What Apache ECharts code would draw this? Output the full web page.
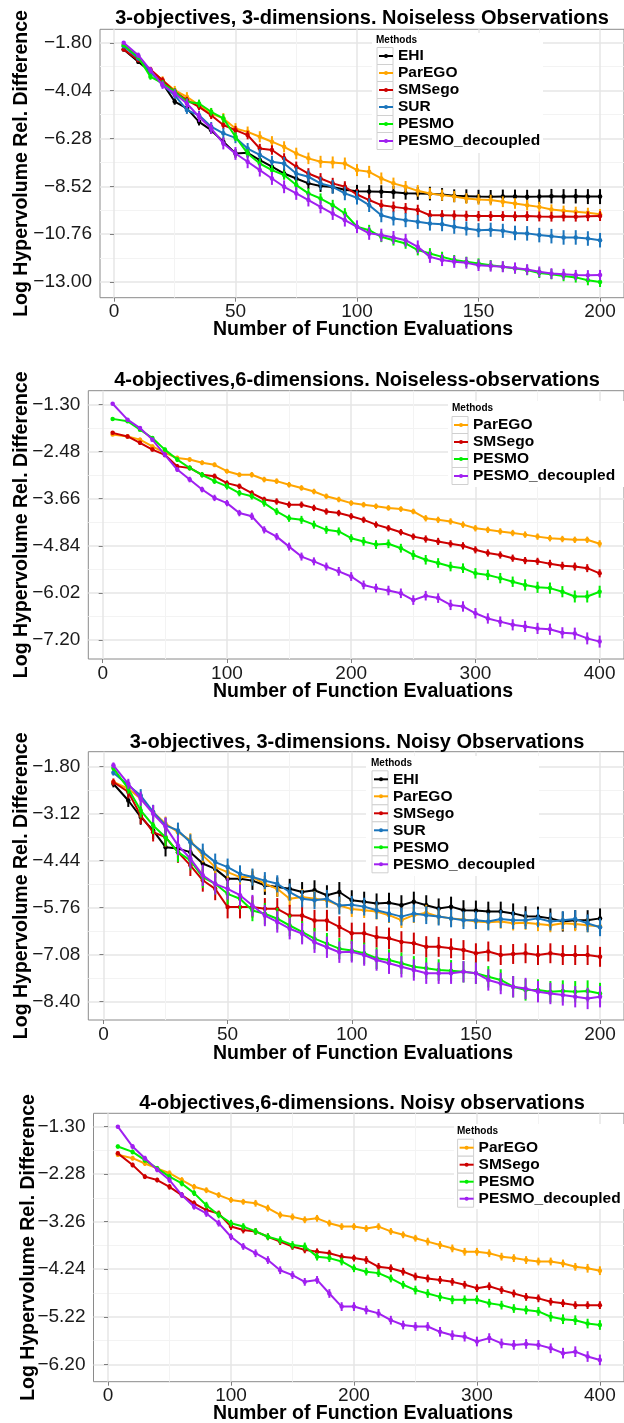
<!DOCTYPE html>
<html><head><meta charset="utf-8">
<script src="https://cdn.jsdelivr.net/npm/echarts@6.0.0/dist/echarts.min.js"></script>
<style>html,body{margin:0;padding:0;background:#fff}#c{width:624px;height:1423px}</style>
</head><body><div id="c"></div><script>
// ---------- tick labels ----------
const p1_xTicks = [0, 50, 100, 150, 200];
const p1_xMinor = [25, 75, 125, 175];
const p1_yTicks = [-13.00, -10.76, -8.52, -6.28, -4.04, -1.80];
const p1_yMinor = [-11.88, -9.64, -7.40, -5.16, -2.92];
const p2_xTicks = [0, 100, 200, 300, 400];
const p2_xMinor = [50, 150, 250, 350];
const p2_yTicks = [-7.20, -6.02, -4.84, -3.66, -2.48, -1.30];
const p2_yMinor = [-6.61, -5.43, -4.25, -3.07, -1.89];
const p3_xTicks = [0, 50, 100, 150, 200];
const p3_xMinor = [25, 75, 125, 175];
const p3_yTicks = [-8.40, -7.08, -5.76, -4.44, -3.12, -1.80];
const p3_yMinor = [-7.74, -6.42, -5.10, -3.78, -2.46];
const p4_xTicks = [0, 100, 200, 300, 400];
const p4_xMinor = [50, 150, 250, 350];
const p4_yTicks = [-6.20, -5.22, -4.24, -3.26, -2.28, -1.30];
const p4_yMinor = [-5.71, -4.73, -3.75, -2.77, -1.79];

// ---------- Panel 1: 3-objectives, 3-dimensions, noiseless ----------
const p1_x = [4,10,15,20,25,30,35,40,45,50,55,60,65,70,75,80,85,90,95,100,105,110,115,120,125,130,135,140,145,150,155,160,165,170,175,180,185,190,195,200];
const p1_EHI = [-2.11,-2.69,-3.16,-3.70,-4.55,-4.87,-5.50,-5.89,-6.43,-6.98,-6.95,-7.29,-7.60,-7.92,-8.15,-8.38,-8.50,-8.55,-8.68,-8.75,-8.76,-8.77,-8.80,-8.84,-8.85,-8.86,-8.90,-8.96,-8.98,-9.00,-9.01,-9.00,-9.00,-9.01,-9.00,-8.98,-8.99,-8.98,-9.00,-9.00];
const p1_ParEGO = [-1.91,-2.53,-3.08,-3.55,-4.02,-4.33,-4.72,-5.11,-5.34,-5.81,-5.97,-6.20,-6.43,-6.67,-6.98,-7.21,-7.37,-7.40,-7.45,-7.76,-7.84,-8.15,-8.38,-8.54,-8.73,-8.85,-8.93,-9.00,-9.09,-9.13,-9.16,-9.24,-9.32,-9.40,-9.48,-9.60,-9.66,-9.71,-9.76,-9.82];
const p1_SMSego = [-2.11,-2.61,-3.05,-3.55,-4.09,-4.48,-4.80,-5.19,-5.65,-5.89,-6.12,-6.75,-6.82,-7.21,-7.60,-7.92,-8.15,-8.38,-8.54,-8.90,-9.16,-9.40,-9.48,-9.55,-9.63,-9.87,-9.87,-9.88,-9.90,-9.91,-9.91,-9.91,-9.92,-9.91,-9.93,-9.94,-9.93,-9.94,-9.92,-9.91];
const p1_SUR = [-1.96,-2.53,-3.16,-3.78,-4.25,-4.95,-5.19,-5.73,-6.04,-6.25,-6.75,-7.05,-7.37,-7.45,-7.92,-8.07,-8.38,-8.54,-8.85,-9.05,-9.40,-9.87,-10.02,-10.10,-10.18,-10.26,-10.29,-10.41,-10.49,-10.57,-10.55,-10.60,-10.70,-10.72,-10.80,-10.85,-10.91,-10.91,-10.96,-11.04];
const p1_PESMO = [-1.91,-2.46,-3.39,-3.70,-4.09,-4.56,-4.64,-5.03,-5.34,-6.20,-6.98,-7.45,-7.76,-7.99,-8.46,-8.85,-9.09,-9.40,-9.79,-10.41,-10.57,-10.88,-11.04,-11.19,-11.50,-11.66,-11.82,-11.97,-12.05,-12.13,-12.21,-12.28,-12.36,-12.44,-12.57,-12.63,-12.72,-12.78,-12.91,-12.99];
const p1_PESMO_dec = [-1.80,-2.38,-3.08,-3.78,-4.17,-4.64,-5.26,-5.81,-6.51,-6.98,-7.37,-7.76,-8.15,-8.54,-8.85,-9.16,-9.48,-9.79,-10.10,-10.41,-10.72,-10.80,-10.91,-11.04,-11.35,-11.82,-11.97,-12.05,-12.10,-12.21,-12.25,-12.28,-12.34,-12.41,-12.52,-12.60,-12.63,-12.67,-12.68,-12.67];
const p1_EHI_err = [0.05,0.10,0.12,0.14,0.15,0.16,0.17,0.18,0.18,0.20,0.20,0.22,0.22,0.24,0.25,0.26,0.28,0.30,0.30,0.30,0.30,0.30,0.30,0.30,0.30,0.32,0.30,0.30,0.32,0.32,0.32,0.33,0.33,0.33,0.34,0.34,0.34,0.34,0.35,0.35];
const p1_ParEGO_err = [0.05,0.12,0.15,0.18,0.20,0.22,0.22,0.24,0.25,0.25,0.25,0.26,0.26,0.26,0.27,0.27,0.28,0.28,0.28,0.28,0.28,0.28,0.27,0.27,0.27,0.26,0.26,0.26,0.25,0.25,0.25,0.25,0.25,0.25,0.24,0.24,0.24,0.24,0.24,0.24];
const p1_SMSego_err = [0.05,0.10,0.12,0.14,0.15,0.15,0.16,0.18,0.18,0.20,0.20,0.22,0.22,0.24,0.24,0.25,0.25,0.26,0.26,0.26,0.26,0.26,0.25,0.25,0.25,0.24,0.24,0.24,0.24,0.24,0.23,0.23,0.23,0.23,0.23,0.23,0.23,0.23,0.23,0.23];
const p1_SUR_err = [0.05,0.10,0.12,0.14,0.16,0.18,0.20,0.22,0.24,0.25,0.26,0.28,0.28,0.30,0.30,0.30,0.30,0.32,0.32,0.32,0.32,0.33,0.33,0.33,0.33,0.33,0.33,0.33,0.33,0.33,0.33,0.33,0.34,0.34,0.34,0.34,0.34,0.34,0.34,0.34];
const p1_PESMO_err = [0.05,0.10,0.14,0.16,0.16,0.17,0.18,0.18,0.20,0.20,0.20,0.22,0.22,0.22,0.24,0.24,0.24,0.25,0.25,0.25,0.25,0.25,0.25,0.25,0.25,0.25,0.24,0.24,0.24,0.24,0.24,0.24,0.24,0.24,0.24,0.24,0.24,0.24,0.24,0.24];
const p1_PESMO_dec_err = [0.05,0.12,0.15,0.18,0.20,0.22,0.24,0.26,0.28,0.30,0.30,0.30,0.30,0.30,0.30,0.30,0.30,0.30,0.30,0.30,0.30,0.30,0.30,0.30,0.30,0.28,0.28,0.28,0.27,0.27,0.26,0.26,0.26,0.25,0.25,0.25,0.25,0.24,0.24,0.24];

// ---------- Panel 2: 4-objectives, 6-dimensions, noiseless ----------
const p2_x = [8,20,30,40,50,60,70,80,90,100,110,120,130,140,150,160,170,180,190,200,210,220,230,240,250,260,270,280,290,300,310,320,330,340,350,360,370,380,390,400];
const p2_ParEGO = [-2.05,-2.10,-2.18,-2.35,-2.51,-2.64,-2.68,-2.76,-2.81,-2.97,-3.06,-3.06,-3.18,-3.22,-3.31,-3.39,-3.48,-3.60,-3.68,-3.77,-3.81,-3.85,-3.89,-3.92,-3.98,-4.15,-4.19,-4.23,-4.31,-4.40,-4.44,-4.48,-4.52,-4.56,-4.61,-4.65,-4.67,-4.69,-4.69,-4.79];
const p2_SMSego = [-2.01,-2.10,-2.26,-2.43,-2.56,-2.85,-2.89,-3.06,-3.10,-3.27,-3.35,-3.52,-3.68,-3.73,-3.81,-3.81,-3.89,-3.98,-4.02,-4.10,-4.19,-4.31,-4.40,-4.50,-4.61,-4.67,-4.73,-4.79,-4.84,-4.94,-5.02,-5.07,-5.15,-5.21,-5.23,-5.29,-5.34,-5.36,-5.40,-5.53];
const p2_PESMO = [-1.66,-1.72,-1.93,-2.14,-2.43,-2.68,-2.89,-3.06,-3.22,-3.35,-3.52,-3.60,-3.77,-3.98,-4.15,-4.19,-4.31,-4.44,-4.48,-4.65,-4.73,-4.81,-4.79,-4.90,-5.07,-5.19,-5.27,-5.36,-5.40,-5.53,-5.57,-5.65,-5.74,-5.82,-5.88,-5.90,-5.99,-6.11,-6.11,-5.99];
const p2_PESMO_dec = [-1.28,-1.68,-1.89,-2.18,-2.56,-2.93,-3.18,-3.43,-3.64,-3.77,-4.02,-4.10,-4.44,-4.61,-4.86,-5.11,-5.23,-5.36,-5.48,-5.61,-5.82,-5.90,-5.96,-6.03,-6.20,-6.09,-6.15,-6.32,-6.36,-6.53,-6.66,-6.74,-6.82,-6.86,-6.91,-6.93,-7.02,-7.04,-7.16,-7.24];
const p2_ParEGO_err = [0.04,0.05,0.05,0.05,0.06,0.06,0.06,0.06,0.06,0.06,0.06,0.07,0.07,0.07,0.07,0.07,0.07,0.07,0.07,0.07,0.07,0.07,0.07,0.07,0.07,0.08,0.08,0.08,0.08,0.08,0.08,0.08,0.08,0.08,0.08,0.08,0.08,0.08,0.08,0.09];
const p2_SMSego_err = [0.04,0.05,0.05,0.05,0.06,0.06,0.06,0.06,0.07,0.07,0.07,0.07,0.07,0.08,0.08,0.08,0.08,0.08,0.08,0.08,0.08,0.08,0.08,0.08,0.08,0.09,0.09,0.09,0.09,0.09,0.09,0.09,0.09,0.09,0.09,0.10,0.10,0.10,0.10,0.10];
const p2_PESMO_err = [0.03,0.03,0.04,0.05,0.05,0.06,0.06,0.07,0.07,0.08,0.08,0.08,0.09,0.09,0.09,0.10,0.10,0.10,0.10,0.10,0.11,0.11,0.11,0.11,0.12,0.12,0.12,0.12,0.12,0.13,0.13,0.13,0.13,0.14,0.14,0.14,0.14,0.15,0.15,0.15];
const p2_PESMO_dec_err = [0.03,0.04,0.05,0.05,0.06,0.06,0.07,0.07,0.08,0.08,0.08,0.09,0.09,0.09,0.10,0.10,0.10,0.10,0.11,0.11,0.11,0.11,0.12,0.12,0.12,0.12,0.12,0.13,0.13,0.13,0.13,0.13,0.14,0.14,0.14,0.14,0.14,0.15,0.15,0.15];

// ---------- Panel 3: 3-objectives, 3-dimensions, noisy ----------
const p3_x = [4,10,15,20,25,30,35,40,45,50,55,60,65,70,75,80,85,90,95,100,105,110,115,120,125,130,135,140,145,150,155,160,165,170,175,180,185,190,195,200];
const p3_EHI = [-2.28,-2.75,-3.21,-3.59,-4.06,-4.10,-4.20,-4.52,-4.67,-4.95,-4.95,-5.00,-5.13,-5.18,-5.23,-5.32,-5.27,-5.41,-5.32,-5.55,-5.59,-5.64,-5.62,-5.69,-5.59,-5.69,-5.78,-5.73,-5.83,-5.84,-5.87,-5.87,-5.92,-6.00,-6.01,-6.06,-6.15,-6.11,-6.11,-6.06];
const p3_ParEGO = [-2.23,-2.42,-2.70,-3.07,-3.40,-3.64,-3.87,-4.29,-4.62,-4.76,-4.90,-4.90,-5.09,-5.23,-5.51,-5.46,-5.51,-5.55,-5.70,-5.80,-5.83,-5.87,-5.97,-6.11,-5.97,-5.90,-6.01,-6.06,-6.09,-6.15,-6.17,-6.15,-6.20,-6.18,-6.22,-6.25,-6.20,-6.22,-6.25,-6.29];
const p3_SMSego = [-2.23,-2.51,-3.17,-3.64,-3.78,-4.20,-4.57,-4.99,-5.23,-5.74,-5.74,-5.74,-5.79,-5.79,-5.98,-5.98,-6.12,-6.12,-6.30,-6.48,-6.48,-6.58,-6.62,-6.72,-6.76,-6.86,-6.86,-6.90,-6.95,-7.04,-6.99,-7.09,-7.06,-7.04,-7.09,-7.04,-7.09,-7.09,-7.09,-7.14];
const p3_SUR = [-1.97,-2.32,-2.61,-3.07,-3.45,-3.59,-3.92,-4.20,-4.48,-4.62,-4.81,-4.90,-5.00,-5.09,-5.32,-5.51,-5.55,-5.51,-5.70,-5.68,-5.73,-5.83,-5.92,-6.01,-5.92,-5.97,-6.01,-6.06,-6.11,-6.11,-6.15,-6.08,-6.11,-6.11,-6.06,-6.15,-6.11,-6.08,-6.20,-6.31];
const p3_PESMO = [-1.84,-2.42,-3.03,-3.45,-3.78,-4.20,-4.43,-4.90,-5.09,-5.37,-5.51,-5.84,-5.93,-6.07,-6.26,-6.44,-6.63,-6.77,-6.91,-6.96,-7.04,-7.18,-7.23,-7.32,-7.42,-7.46,-7.51,-7.53,-7.56,-7.60,-7.70,-7.79,-7.98,-8.07,-8.07,-8.12,-8.10,-8.12,-8.10,-8.17];
const p3_PESMO_dec = [-1.76,-2.28,-2.70,-3.12,-3.49,-4.01,-4.38,-4.85,-5.09,-5.23,-5.41,-5.70,-5.98,-6.16,-6.35,-6.49,-6.73,-6.87,-7.01,-7.00,-7.09,-7.23,-7.32,-7.42,-7.51,-7.60,-7.60,-7.60,-7.56,-7.60,-7.79,-7.89,-7.98,-8.03,-8.12,-8.17,-8.21,-8.26,-8.31,-8.26];
const p3_EHI_err = [0.10,0.18,0.22,0.24,0.26,0.26,0.25,0.25,0.25,0.26,0.26,0.26,0.27,0.27,0.28,0.28,0.28,0.28,0.28,0.28,0.28,0.28,0.28,0.28,0.28,0.28,0.28,0.28,0.28,0.28,0.28,0.28,0.28,0.28,0.28,0.28,0.28,0.28,0.28,0.28];
const p3_ParEGO_err = [0.08,0.12,0.15,0.18,0.20,0.20,0.20,0.20,0.20,0.22,0.22,0.22,0.22,0.22,0.22,0.22,0.22,0.22,0.22,0.22,0.22,0.22,0.22,0.22,0.22,0.22,0.22,0.22,0.20,0.20,0.20,0.20,0.20,0.20,0.20,0.20,0.20,0.20,0.20,0.20];
const p3_SMSego_err = [0.10,0.18,0.24,0.26,0.28,0.30,0.30,0.32,0.32,0.32,0.32,0.30,0.30,0.30,0.30,0.30,0.30,0.30,0.30,0.30,0.30,0.30,0.30,0.30,0.30,0.30,0.28,0.28,0.28,0.28,0.28,0.28,0.28,0.28,0.28,0.28,0.28,0.28,0.28,0.28];
const p3_SUR_err = [0.08,0.14,0.18,0.20,0.22,0.22,0.22,0.24,0.24,0.24,0.24,0.24,0.24,0.24,0.24,0.24,0.25,0.25,0.25,0.25,0.25,0.25,0.25,0.25,0.25,0.25,0.25,0.25,0.25,0.25,0.25,0.25,0.25,0.25,0.25,0.25,0.25,0.25,0.25,0.25];
const p3_PESMO_err = [0.08,0.14,0.20,0.24,0.26,0.28,0.28,0.30,0.30,0.30,0.30,0.30,0.30,0.30,0.30,0.30,0.30,0.30,0.30,0.30,0.30,0.30,0.30,0.30,0.30,0.30,0.30,0.30,0.30,0.30,0.30,0.30,0.30,0.30,0.30,0.30,0.30,0.30,0.30,0.30];
const p3_PESMO_dec_err = [0.08,0.14,0.20,0.24,0.26,0.28,0.28,0.30,0.30,0.30,0.30,0.30,0.30,0.30,0.30,0.30,0.30,0.30,0.30,0.30,0.30,0.30,0.30,0.30,0.30,0.30,0.30,0.30,0.30,0.30,0.30,0.30,0.30,0.30,0.30,0.30,0.30,0.30,0.30,0.30];

// ---------- Panel 4: 4-objectives, 6-dimensions, noisy ----------
const p4_x = [8,20,30,40,50,60,70,80,90,100,110,120,130,140,150,160,170,180,190,200,210,220,230,240,250,260,270,280,290,300,310,320,330,340,350,360,370,380,390,400];
const p4_ParEGO = [-1.88,-1.95,-2.06,-2.16,-2.26,-2.40,-2.54,-2.61,-2.71,-2.81,-2.85,-2.88,-2.98,-3.12,-3.16,-3.22,-3.19,-3.29,-3.36,-3.36,-3.40,-3.36,-3.46,-3.53,-3.60,-3.67,-3.74,-3.81,-3.88,-3.88,-3.91,-3.98,-4.01,-4.05,-4.08,-4.08,-4.12,-4.19,-4.22,-4.27];
const p4_SMSego = [-1.85,-2.09,-2.33,-2.40,-2.54,-2.71,-2.88,-3.02,-3.09,-3.36,-3.43,-3.46,-3.57,-3.67,-3.77,-3.84,-3.88,-3.91,-3.98,-4.01,-4.05,-4.19,-4.22,-4.29,-4.39,-4.43,-4.46,-4.50,-4.56,-4.63,-4.59,-4.67,-4.74,-4.81,-4.84,-4.91,-4.94,-4.98,-4.98,-4.98];
const p4_PESMO = [-1.71,-1.82,-1.99,-2.16,-2.33,-2.47,-2.67,-2.92,-3.12,-3.29,-3.36,-3.46,-3.57,-3.64,-3.74,-3.77,-3.98,-4.01,-4.08,-4.22,-4.29,-4.32,-4.43,-4.56,-4.67,-4.74,-4.81,-4.87,-4.87,-4.87,-4.94,-4.98,-5.05,-5.08,-5.11,-5.22,-5.27,-5.29,-5.36,-5.39];
const p4_PESMO_dec = [-1.30,-1.71,-1.95,-2.19,-2.40,-2.71,-2.95,-3.09,-3.29,-3.57,-3.77,-3.91,-4.05,-4.26,-4.36,-4.50,-4.46,-4.74,-5.01,-5.01,-5.08,-5.15,-5.29,-5.39,-5.42,-5.42,-5.53,-5.60,-5.63,-5.73,-5.66,-5.77,-5.80,-5.78,-5.80,-5.87,-5.97,-5.94,-6.04,-6.11];
const p4_ParEGO_err = [0.04,0.05,0.05,0.05,0.06,0.06,0.06,0.06,0.06,0.06,0.06,0.07,0.07,0.07,0.07,0.07,0.07,0.07,0.07,0.07,0.07,0.07,0.07,0.07,0.07,0.08,0.08,0.08,0.08,0.08,0.08,0.08,0.08,0.08,0.08,0.08,0.08,0.08,0.09,0.09];
const p4_SMSego_err = [0.04,0.05,0.05,0.05,0.06,0.06,0.06,0.06,0.06,0.07,0.07,0.07,0.07,0.07,0.07,0.07,0.07,0.07,0.07,0.07,0.08,0.08,0.08,0.08,0.08,0.08,0.08,0.08,0.08,0.08,0.08,0.08,0.08,0.08,0.08,0.08,0.08,0.08,0.08,0.08];
const p4_PESMO_err = [0.04,0.05,0.05,0.05,0.06,0.06,0.06,0.07,0.07,0.07,0.07,0.07,0.07,0.08,0.08,0.08,0.08,0.08,0.08,0.08,0.08,0.08,0.08,0.08,0.09,0.09,0.09,0.09,0.09,0.09,0.09,0.09,0.09,0.09,0.09,0.10,0.10,0.10,0.10,0.10];
const p4_PESMO_dec_err = [0.03,0.05,0.05,0.05,0.06,0.06,0.06,0.07,0.07,0.07,0.07,0.08,0.08,0.08,0.08,0.08,0.08,0.09,0.09,0.09,0.09,0.09,0.09,0.09,0.09,0.09,0.10,0.10,0.10,0.10,0.10,0.10,0.10,0.10,0.10,0.10,0.11,0.11,0.11,0.11];

// ---------- styles ----------
const COLORS = { EHI:'#000000', ParEGO:'#FFA500', SMSego:'#CD0000', SUR:'#1B75BC', PESMO:'#00EE00', PESMO_decoupled:'#A020F0' };
const FONT = 'Liberation Sans';

const panels = [
  { title:'3-objectives, 3-dimensions. Noiseless Observations',
    grid:{left:100, top:29.3, width:525, height:268.4}, xMin:-5.75, xMax:209.86, yMin:-13.73, yMax:-1.17,
    xTicks:p1_xTicks, xMinor:p1_xMinor, yTicks:p1_yTicks, yMinor:p1_yMinor, x:p1_x,
    series:[['EHI',p1_EHI,p1_EHI_err],['ParEGO',p1_ParEGO,p1_ParEGO_err],['SMSego',p1_SMSego,p1_SMSego_err],['SUR',p1_SUR,p1_SUR_err],['PESMO',p1_PESMO,p1_PESMO_err],['PESMO_decoupled',p1_PESMO_dec,p1_PESMO_dec_err]],
    titleY:18.5, titleX:362, xNameY:330, yNameX:22, legBox:[372,33,171,120], legTitle:[376,40], iconCx:385, firstCy:56 },
  { title:'4-objectives,6-dimensions. Noiseless-observations',
    grid:{left:88.3, top:390.7, width:537.3, height:268.3}, xMin:-11.6, xMax:419.6, yMin:-7.676, yMax:-0.954,
    xTicks:p2_xTicks, xMinor:p2_xMinor, yTicks:p2_yTicks, yMinor:p2_yMinor, x:p2_x,
    series:[['ParEGO',p2_ParEGO,p2_ParEGO_err],['SMSego',p2_SMSego,p2_SMSego_err],['PESMO',p2_PESMO,p2_PESMO_err],['PESMO_decoupled',p2_PESMO_dec,p2_PESMO_dec_err]],
    titleY:380, titleX:357, xNameY:692, yNameX:22, legBox:[448,401,176,86], legTitle:[452,408], iconCx:460, firstCy:425 },
  { title:'3-objectives, 3-dimensions. Noisy Observations',
    grid:{left:88.3, top:751.7, width:536.7, height:268.3}, xMin:-6.11, xMax:209.65, yMin:-8.914, yMax:-1.379,
    xTicks:p3_xTicks, xMinor:p3_xMinor, yTicks:p3_yTicks, yMinor:p3_yMinor, x:p3_x,
    series:[['EHI',p3_EHI,p3_EHI_err],['ParEGO',p3_ParEGO,p3_ParEGO_err],['SMSego',p3_SMSego,p3_SMSego_err],['SUR',p3_SUR,p3_SUR_err],['PESMO',p3_PESMO,p3_PESMO_err],['PESMO_decoupled',p3_PESMO_dec,p3_PESMO_dec_err]],
    titleY:742, titleX:357, xNameY:1053.5, yNameX:22, legBox:[366,756,173,120], legTitle:[371,763], iconCx:380, firstCy:779.3 },
  { title:'4-objectives,6-dimensions. Noisy observations',
    grid:{left:93.5, top:1113.3, width:536.5, height:268.4}, xMin:-11.8, xMax:419.6, yMin:-6.559, yMax:-1.024,
    xTicks:p4_xTicks, xMinor:p4_xMinor, yTicks:p4_yTicks, yMinor:p4_yMinor, x:p4_x,
    series:[['ParEGO',p4_ParEGO,p4_ParEGO_err],['SMSego',p4_SMSego,p4_SMSego_err],['PESMO',p4_PESMO,p4_PESMO_err],['PESMO_decoupled',p4_PESMO_dec,p4_PESMO_dec_err]],
    titleY:1103.5, titleX:362, xNameY:1413.5, yNameX:28.6, legBox:[454,1124,172,85], legTitle:[457,1131], iconCx:465.6, firstCy:1147.7 }
];

const fmtY = v => (v < 0 ? '\u2212' : '') + Math.abs(v).toFixed(2);
const grids = [], xAxes = [], yAxes = [], series = [], legends = [], graphics = [];
const ITEM_H = 17;

panels.forEach((p, i) => {
  grids.push(Object.assign({ show:true, borderColor:'#8a8a8a', borderWidth:1, backgroundColor:'transparent' }, p.grid));
  xAxes.push({ type:'value', gridIndex:i, min:p.xMin, max:p.xMax, position:'bottom',
    axisLine:{show:false},
    axisTick:{show:true, length:4, customValues:p.xTicks, lineStyle:{color:'#7f7f7f', width:1}},
    axisLabel:{customValues:p.xTicks, fontSize:19, fontFamily:FONT, color:'#1a1a1a', margin:5},
    splitLine:{show:true, lineStyle:{color:'#e6e6e6', width:1.5}} });
  xAxes.push({ type:'value', gridIndex:i, min:p.xMin, max:p.xMax, position:'top',
    axisLine:{show:false}, axisTick:{show:false, customValues:p.xMinor}, axisLabel:{show:false},
    splitLine:{show:true, lineStyle:{color:'#f3f3f3', width:1}} });
  yAxes.push({ type:'value', gridIndex:i, min:p.yMin, max:p.yMax, position:'left',
    axisLine:{show:false},
    axisTick:{show:true, length:4, customValues:p.yTicks, lineStyle:{color:'#7f7f7f', width:1}},
    axisLabel:{customValues:p.yTicks, formatter:fmtY, fontSize:19, fontFamily:FONT, color:'#1a1a1a', margin:8},
    splitLine:{show:true, lineStyle:{color:'#e6e6e6', width:1.5}} });
  yAxes.push({ type:'value', gridIndex:i, min:p.yMin, max:p.yMax, position:'right',
    axisLine:{show:false}, axisTick:{show:false, customValues:p.yMinor}, axisLabel:{show:false},
    splitLine:{show:true, lineStyle:{color:'#f3f3f3', width:1}} });

  p.series.forEach(([name, ys, err], k) => {
    const color = COLORS[name];
    const z = 3 + k;
    series.push({ type:'custom', name:name + ' error', xAxisIndex:2*i, yAxisIndex:2*i, silent:true, z:z,
      data:p.x.map((x, j) => [x, ys[j], err[j]]),
      encode:{x:0, y:1},
      renderItem:(params, api) => {
        const x = api.value(0), y = api.value(1), e = api.value(2);
        const a = api.coord([x, y + e]), b = api.coord([x, y - e]);
        return { type:'line', shape:{x1:a[0], y1:a[1], x2:b[0], y2:b[1]}, style:{stroke:color, lineWidth:2} };
      } });
    series.push({ type:'line', name:name, xAxisIndex:2*i, yAxisIndex:2*i, z:z,
      data:p.x.map((x, j) => [x, ys[j]]),
      symbol:'circle', symbolSize:4.5, showSymbol:true, showAllSymbol:true,
      lineStyle:{color:color, width:2}, itemStyle:{color:color}, emphasis:{disabled:true} });
  });

  const names = p.series.map(s => s[0]);
  legends.push({ orient:'vertical', left:p.iconCx - 7, top:p.firstCy - ITEM_H/2, padding:0, itemGap:0,
    itemWidth:14, itemHeight:5, selectedMode:false, data:names, z:5,
    textStyle:{fontSize:15.5, fontWeight:'bold', fontFamily:FONT, color:'#000', lineHeight:ITEM_H} });

  const [bx, by, bw, bh] = p.legBox;
  graphics.push({ type:'rect', z:1, shape:{x:bx, y:by, width:bw, height:bh}, style:{fill:'#ffffff'} });
  names.forEach((n, k) => {
    graphics.push({ type:'rect', z:1, shape:{x:p.iconCx - 8, y:p.firstCy - ITEM_H/2 + k*ITEM_H, width:16, height:ITEM_H},
      style:{fill:'#ffffff', stroke:'#d0d0d0', lineWidth:1} });
  });
  graphics.push({ type:'text', z:5, x:p.legTitle[0], y:p.legTitle[1],
    style:{text:'Methods', fontSize:10, fontWeight:'bold', fontFamily:FONT, fill:'#000', align:'left', verticalAlign:'middle'} });
  graphics.push({ type:'text', z:5, x:p.titleX, y:p.titleY,
    style:{text:p.title, fontSize:20, fontWeight:'bold', fontFamily:FONT, fill:'#000', align:'center', verticalAlign:'middle'} });
  graphics.push({ type:'text', z:5, x:363, y:p.xNameY,
    style:{text:'Number of Function Evaluations', fontSize:19.5, fontWeight:'bold', fontFamily:FONT, fill:'#000', align:'center', verticalAlign:'middle'} });
  graphics.push({ type:'text', z:5, x:p.yNameX, y:p.grid.top + p.grid.height/2, rotation:Math.PI/2,
    style:{text:'Log Hypervolume Rel. Difference', fontSize:19.5, fontWeight:'bold', fontFamily:FONT, fill:'#000', align:'center', verticalAlign:'middle'} });
});

const chart = echarts.init(document.getElementById('c'), null, {renderer:'canvas'});
chart.setOption({
  animation:false,
  backgroundColor:'#ffffff',
  grid:grids, xAxis:xAxes, yAxis:yAxes, series:series, legend:legends,
  graphic:{elements:graphics}
});
</script></body></html>
